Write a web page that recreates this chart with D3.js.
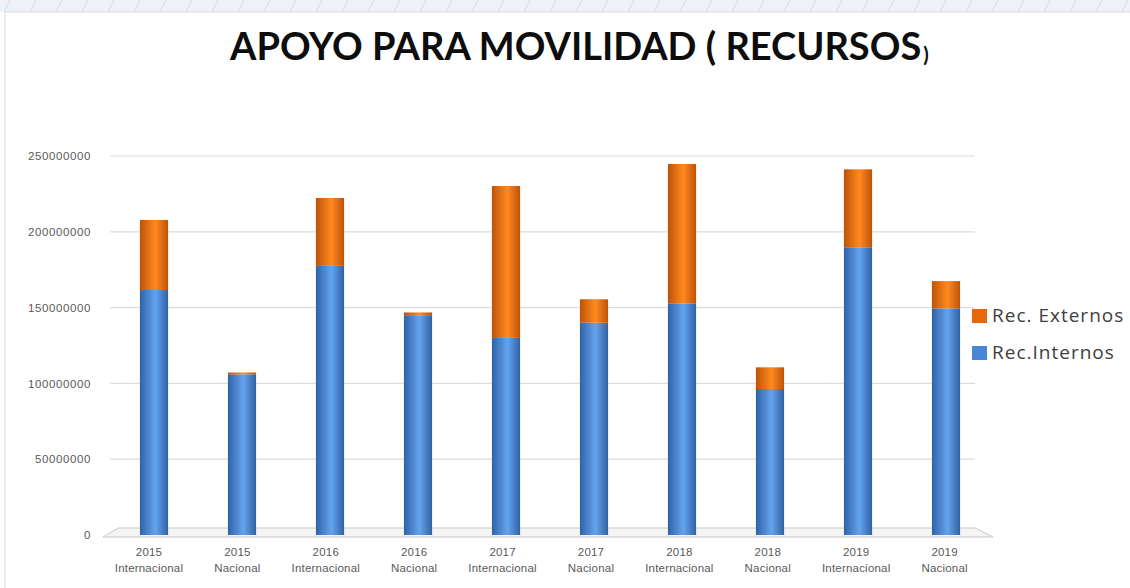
<!DOCTYPE html>
<html>
<head>
<meta charset="utf-8">
<script src="https://cdn.jsdelivr.net/npm/d3@7"></script>
<style>
  body { margin: 0; background: #fff; }
  svg { display: block; }
</style>
</head>
<body>
<div id="movilidad_plot"></div>
<script>
// data
var anios      = ["2015", "2015", "2016", "2016", "2017", "2017", "2018", "2018", "2019", "2019"];
var tipos      = ["Internacional", "Nacional", "Internacional", "Nacional", "Internacional", "Nacional", "Internacional", "Nacional", "Internacional", "Nacional"];
var recInternos = [161600000, 106000000, 177500000, 145000000, 130000000, 140000000, 152800000, 96300000, 189800000, 149500000];
var recExternos = [46200000, 1200000, 44800000, 1800000, 100200000, 15500000, 91900000, 14300000, 51400000, 18000000];
var yTicks     = [0, 50000000, 100000000, 150000000, 200000000, 250000000];
var series     = ["Rec.Internos", "Rec. Externos"];

var width = 1130, height = 588;

var data = anios.map(function(a, i){
	return {key: i, anio: a, tipo: tipos[i], "Rec.Internos": recInternos[i], "Rec. Externos": recExternos[i]};
});

var svg = d3.select("#movilidad_plot").append("svg")
	.attr("width", width)
	.attr("height", height);

var defs = svg.append("defs");

// slide background strip with thin slanted lines
var pat = defs.append("pattern")
	.attr("id", "lineas")
	.attr("width", 26).attr("height", 12)
	.attr("patternUnits", "userSpaceOnUse");
pat.append("rect").attr("width", 26).attr("height", 12).attr("fill", "#eef1f5");
pat.append("line").attr("x1", 4).attr("y1", 12).attr("x2", 10).attr("y2", 0)
	.attr("stroke", "#d6dbe3").attr("stroke-width", 1);

svg.append("rect").attr("x", 0).attr("y", 0).attr("width", width).attr("height", 12)
	.attr("fill", "url(#lineas)");
svg.append("line").attr("x1", 5).attr("x2", width).attr("y1", 12).attr("y2", 12)
	.attr("stroke", "#d9d9d9");
svg.append("line").attr("x1", 5).attr("x2", 5).attr("y1", 12).attr("y2", height)
	.attr("stroke", "#d9d9d9");

// cylinder-ish gradients
function gradiente(id, borde, centro){
	var g = defs.append("linearGradient").attr("id", id)
		.attr("x1", "0%").attr("x2", "100%").attr("y1", "0%").attr("y2", "0%");
	g.append("stop").attr("offset", "0%").attr("stop-color", borde);
	g.append("stop").attr("offset", "55%").attr("stop-color", centro);
	g.append("stop").attr("offset", "100%").attr("stop-color", borde);
}
gradiente("gradAzul", "#2f62a6", "#66a3ee");
gradiente("gradNaranja", "#bf5208", "#ff8a1f");

var color = {"Rec.Internos": "url(#gradAzul)", "Rec. Externos": "url(#gradNaranja)"};
var colorLeyenda = {"Rec.Internos": "#4a86d6", "Rec. Externos": "#e8660c"};

// title (closing paren smaller, as in the slide)
var titulo = svg.append("text")
	.attr("x", 230).attr("y", 60)
	.style("font-family", "Lato, sans-serif")
	.style("font-weight", "bold")
	.attr("fill", "#0d0d0d");
titulo.append("tspan")
	.style("font-size", "38px")
	.text("APOYO PARA MOVILIDAD ( RECURSOS");
titulo.append("tspan")
	.attr("dx", 2)
	.attr("dy", 2)
	.style("font-size", "20px")
	.text(")");

var x = d3.scaleBand()
	.domain(data.map(function(d){ return d.key; }))
	.range([110, 990])
	.paddingInner(0.68)
	.paddingOuter(0.34);

var y = d3.scaleLinear()
	.domain([0, 250000000])
	.range([535, 156]);

// gridlines
svg.append("g").selectAll("line")
	.data(yTicks.filter(function(t){ return t > 0; }))
	.enter().append("line")
	.attr("x1", 110).attr("x2", 975)
	.attr("y1", function(d){ return y(d); })
	.attr("y2", function(d){ return y(d); })
	.attr("stroke", "#dcdcdc")
	.attr("stroke-width", 1.2);

// 3D floor
svg.append("path")
	.attr("d", "M103,537 L118,528 L975,528 L993,537 Z")
	.attr("fill", "#f4f4f4")
	.attr("stroke", "#c8c8c8")
	.attr("stroke-width", 1);

// y axis
var yAxis = d3.axisLeft(y).tickValues(yTicks).tickSize(0).tickPadding(0).tickFormat(d3.format("d"));
var gy = svg.append("g")
	.attr("class", "y axis")
	.attr("transform", "translate(91,0)")
	.call(yAxis);
gy.select(".domain").remove();
gy.selectAll("text")
	.style("font-family", "'Liberation Sans', sans-serif")
	.style("font-size", "11.5px")
	.style("letter-spacing", "0.6px")
	.attr("fill", "#595959");

// stacked bars
var stack = d3.stack().keys(series);
var capas = stack(data);

var grupos = svg.selectAll("g.capa")
	.data(capas)
	.enter().append("g")
	.attr("class", "capa")
	.attr("fill", function(d){ return color[d.key]; });

grupos.selectAll("rect")
	.data(function(d){ return d; })
	.enter().append("rect")
	.attr("x", function(d){ return x(d.data.key); })
	.attr("width", x.bandwidth())
	.attr("y", function(d){ return y(d[1]); })
	.attr("height", function(d){ return y(d[0]) - y(d[1]); });

// x labels
var xl = svg.append("g").attr("class", "x axis")
	.selectAll("text")
	.data(data)
	.enter().append("text")
	.attr("x", function(d, i){ return x(d.key) + x.bandwidth() / 2 - 5 + i * 0.4; })
	.attr("y", 556)
	.attr("text-anchor", "middle")
	.style("font-family", "'Liberation Sans', sans-serif")
	.style("font-size", "11.5px")
	.style("letter-spacing", "0.2px")
	.attr("fill", "#595959");
xl.append("tspan").text(function(d){ return d.anio; });
xl.append("tspan")
	.attr("x", function(d, i){ return x(d.key) + x.bandwidth() / 2 - 5 + i * 0.4; })
	.attr("dy", 16)
	.text(function(d){ return d.tipo; });

// legend
var leyenda = svg.append("g").attr("class", "legend")
	.selectAll("g")
	.data(series.slice().reverse())
	.enter().append("g")
	.attr("transform", function(d, i){ return "translate(972," + (309 + i * 37) + ")"; });
leyenda.append("rect")
	.attr("width", 15).attr("height", 14)
	.attr("fill", function(d){ return colorLeyenda[d]; });
leyenda.append("text")
	.attr("x", 20).attr("y", 13)
	.style("font-family", "'Open Sans', sans-serif")
	.style("font-size", "19px")
	.style("letter-spacing", "1px")
	.attr("fill", "#404040")
	.text(function(d){ return d; });
</script>
</body>
</html>
